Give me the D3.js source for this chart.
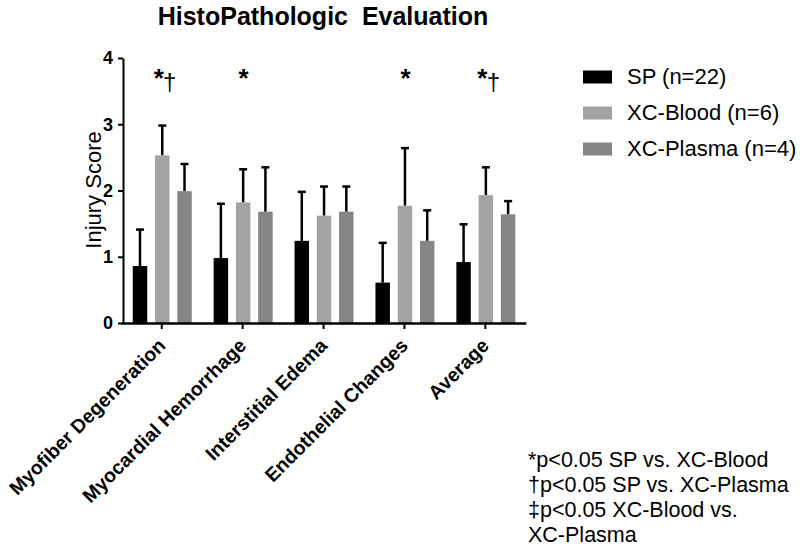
<!DOCTYPE html>
<html><head><meta charset="utf-8">
<script src="https://cdn.jsdelivr.net/npm/d3@7"></script>
<style>body{margin:0;background:#fff}svg{font-family:Arial,"Liberation Sans",sans-serif}</style>
</head><body><svg id="c" width="800" height="548"></svg>
<script>
const categories = ["Myofiber Degeneration","Myocardial Hemorrhage","Interstitial Edema","Endothelial Changes","Average"];
const seriesNames = ["SP (n=22)","XC-Blood (n=6)","XC-Plasma (n=4)"];
const seriesColors = ["#000000","#a3a3a5","#858585"];
const spMean = [0.86,0.98,1.24,0.61,0.92];
const spErr = [1.41,1.80,1.98,1.21,1.49];
const bloodMean = [2.53,1.82,1.62,1.77,1.93];
const bloodErr = [2.98,2.32,2.06,2.64,2.35];
const plasmaMean = [1.99,1.68,1.68,1.24,1.64];
const plasmaErr = [2.40,2.35,2.06,1.70,1.84];
const yTicks = [0,1,2,3,4];
const annotations = ["*†","*","","*","*†"];
const footnotes = ["*p<0.05 SP vs. XC-Blood","†p<0.05 SP vs. XC-Plasma","‡p<0.05 XC-Blood vs.","XC-Plasma"];

const means=[spMean,bloodMean,plasmaMean], errs=[spErr,bloodErr,plasmaErr];
const svg=d3.select("#c");
const x0=d3.scaleBand().domain(categories).range([121.3,525.8]).padding(0);
const x1=d3.scaleBand().domain([0,1,2]).range([-29,30]).paddingInner(0.35).paddingOuter(0);
const y=d3.scaleLinear().domain([0,4]).range([323,58]);

svg.append("text").attr("x",323).attr("y",25).attr("text-anchor","middle")
 .attr("font-weight","bold").attr("font-size",25).attr("xml:space","preserve").text("HistoPathologic  Evaluation");

// bars
categories.forEach((c,i)=>{
  const cx=x0(c)+x0.bandwidth()/2;
  [0,1,2].forEach(s=>{
    const bx=cx+x1(s), bw=x1.bandwidth();
    svg.append("line").attr("x1",bx+bw/2).attr("x2",bx+bw/2).attr("y1",y(means[s][i])).attr("y2",y(errs[s][i]))
      .attr("stroke","#000").attr("stroke-width",2.5);
    svg.append("line").attr("x1",bx+bw/2-4).attr("x2",bx+bw/2+4).attr("y1",y(errs[s][i])).attr("y2",y(errs[s][i]))
      .attr("stroke","#000").attr("stroke-width",2.5);
    svg.append("rect").attr("x",bx).attr("width",bw).attr("y",y(means[s][i])).attr("height",y(0)-y(means[s][i]))
      .attr("fill",seriesColors[s]);
  });
  const a=annotations[i];
  if(a){
    const two=a.includes("†");
    const sx=two?cx-3:cx+1;
    svg.append("text").attr("x",sx).attr("y",87).attr("text-anchor","middle").attr("font-size",26).attr("font-weight","bold").text("*");
    if(two) svg.append("text").attr("x",cx+8).attr("y",90).attr("text-anchor","middle").attr("font-size",24).text("†");
  }
});

// y axis
const ya=svg.append("g").attr("transform","translate(123,0)")
 .call(d3.axisLeft(y).tickValues(yTicks).tickFormat(d3.format("d")).tickSize(5).tickSizeOuter(0));
ya.select(".domain").attr("stroke-width",2);
ya.selectAll(".tick line").attr("stroke-width",2);
ya.selectAll("text").attr("font-size",18).attr("font-weight","bold").attr("font-family","Arial,sans-serif").attr("x",-10).attr("fill","#000");

// x axis
const xa=svg.append("g").attr("transform","translate(0,323)")
 .call(d3.axisBottom(x0).tickSize(6).tickSizeOuter(0));
xa.select(".domain").attr("stroke-width",2.5);
xa.selectAll(".tick line").attr("stroke-width",2);
xa.selectAll("text").attr("font-size",19.5).attr("font-weight","bold").attr("font-family","Arial,sans-serif")
 .attr("fill","#000").attr("text-anchor","end").attr("transform","translate(0,19) rotate(-45)").attr("dy","0.35em").attr("y",0).attr("x",0);

svg.append("text").attr("transform","translate(101,190) rotate(-90)").attr("text-anchor","middle")
 .attr("font-size",22).text("Injury Score");

// legend
seriesNames.forEach((n,i)=>{
  const ly=77+i*36;
  svg.append("rect").attr("x",583).attr("y",ly-6.5).attr("width",29).attr("height",13).attr("fill",seriesColors[i]);
  svg.append("text").attr("x",627).attr("y",ly).attr("dy","0.32em").attr("font-size",22).text(n);
});

footnotes.forEach((t,i)=>{
  svg.append("text").attr("x",528).attr("y",467+i*25).attr("font-size",21.5).text(t);
});
</script></body></html>
